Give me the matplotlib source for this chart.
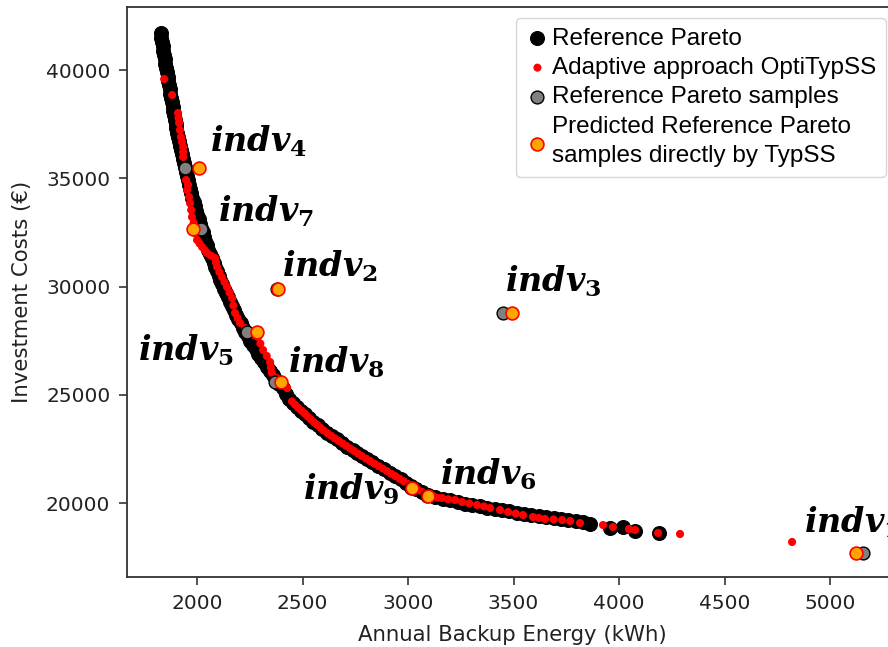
import matplotlib
matplotlib.use("Agg")
import matplotlib.pyplot as plt

plt.rcParams['mathtext.fontset'] = 'custom'
plt.rcParams['mathtext.it'] = 'DejaVu Serif:italic:bold'
plt.rcParams['mathtext.rm'] = 'DejaVu Serif:bold'
plt.rcParams['mathtext.bf'] = 'DejaVu Serif:bold'

# Reference Pareto front (black)
ref_x = [1829, 1831, 1834, 1837, 1840, 1843, 1846, 1850, 1854, 1858, 1861, 1864, 1867, 1870,
         1874, 1877, 1880, 1884, 1887, 1891, 1894, 1898, 1902, 1906, 1910, 1914, 1918, 1922,
         1927, 1932, 1937, 1942, 1947, 1952, 1957, 1962, 1967, 1972, 1978, 1984, 1990, 1996,
         2002, 2008, 2014, 2020, 2026, 2033, 2040, 2047, 2054, 2062, 2070, 2078, 2086, 2094,
         2102, 2110, 2118, 2126, 2135, 2145, 2155, 2165, 2175, 2185, 2195, 2206, 2217, 2228,
         2240, 2252, 2264, 2277, 2290, 2304, 2318, 2332, 2346, 2360, 2375, 2390, 2405, 2421,
         2438, 2455, 2473, 2491, 2510, 2530, 2550, 2571, 2593, 2615, 2638, 2662, 2687, 2713,
         2740, 2758, 2780, 2805, 2830, 2858, 2886, 2915, 2940, 2965, 2990, 3015, 3040, 3065,
         3095, 3130, 3165, 3200, 3235, 3270, 3305, 3340, 3375, 3410, 3445, 3480, 3515, 3550,
         3585, 3620, 3655, 3690, 3725, 3760, 3795, 3830, 3862, 3955, 4020, 4075, 4190]
ref_y = [41700, 41500, 41300, 41100, 40900, 40700, 40500, 40300, 40100, 39900, 39700, 39500,
         39300, 39100, 38900, 38700, 38500, 38300, 38100, 37900, 37700, 37500, 37300, 37100,
         36900, 36700, 36500, 36300, 36100, 35900, 35700, 35500, 35300, 35100, 34900, 34700,
         34500, 34300, 34100, 33900, 33700, 33500, 33300, 33100, 32900, 32700, 32500, 32300,
         32100, 31900, 31700, 31500, 31300, 31100, 30900, 30700, 30500, 30300, 30100, 29900,
         29700, 29500, 29300, 29100, 28900, 28700, 28500, 28300, 28100, 27900, 27700, 27500,
         27300, 27100, 26900, 26700, 26500, 26300, 26100, 25900, 25700, 25500, 25300, 25060,
         24830, 24620, 24440, 24270, 24100, 23934, 23768, 23594, 23412, 23260, 23108, 22950,
         22785, 22614, 22436, 22317, 22188, 22040, 21894, 21729, 21565, 21394, 21250, 21100,
         20955, 20800, 20660, 20530, 20380, 20290, 20205, 20125, 20050, 19980, 19915, 19850,
         19790, 19730, 19675, 19620, 19565, 19510, 19460, 19410, 19360, 19310, 19260, 19210,
         19160, 19110, 19050, 18860, 18900, 18720, 18640]

# Adaptive approach OptiTypSS (red)
ada_x = [1844, 1882, 1910, 1912, 1915, 1919, 1924, 1929, 1934, 1934, 1934, 1948, 1957, 1953,
         1962, 1967, 1972, 1976, 1984, 1991, 1995, 2000, 2012, 2024, 2036, 2047, 2066, 2085,
         2090, 2095, 2106, 2118, 2130, 2142, 2154, 2166, 2172, 2180, 2192, 2204, 2227, 2251,
         2270, 2289, 2300, 2313, 2330, 2346, 2350, 2355, 2375, 2412, 2427, 2450, 2465, 2480,
         2495, 2510, 2525, 2540, 2555, 2570, 2585, 2600, 2618, 2636, 2654, 2672, 2690, 2708,
         2726, 2744, 2762, 2780, 2800, 2820, 2840, 2860, 2880, 2900, 2920, 2940, 2960, 2980,
         3000, 3045, 3065, 3120, 3140, 3161, 3190, 3223, 3256, 3290, 3327, 3360, 3389, 3436,
         3474, 3510, 3545, 3592, 3620, 3649, 3690, 3730, 3768, 3815, 3924, 3971, 4047, 4076,
         4185, 4289, 4820]
ada_y = [39584, 38846, 38015, 37780, 37553, 37230, 36907, 36680, 36445, 36210, 35983, 34921,
         34700, 34460, 34136, 33840, 33536, 33213, 32950, 32705, 32430, 32151, 31990, 31828,
         31690, 31551, 31430, 31320, 31110, 30905, 30670, 30443, 30210, 29981, 29730, 29473,
         29130, 28781, 28550, 28319, 28088, 27857, 27760, 27673, 27370, 27072, 26800, 26518,
         26260, 26010, 25800, 25470, 25318, 24700, 24540, 24400, 24270, 24140, 24000, 23860,
         23730, 23610, 23480, 23360, 23230, 23110, 22990, 22870, 22760, 22640, 22520, 22410,
         22290, 22180, 22060, 21950, 21830, 21710, 21600, 21480, 21360, 21250, 21130, 21010,
         20890, 20640, 20530, 20320, 20250, 20239, 20180, 20147, 20055, 19990, 19916, 19850,
         19777, 19685, 19593, 19520, 19454, 19362, 19320, 19270, 19250, 19224, 19177, 19085,
         18992, 18900, 18808, 18762, 18624, 18577, 18208]

# Reference Pareto samples (grey) and predictions by TypSS (orange)
indv_names = ['1', '2', '3', '4', '5', '6', '7', '8', '9']
samp_x = [5157, 2378, 3450, 1943, 2237, 3090, 2019, 2370, 3015]
samp_y = [17700, 29890, 28780, 35475, 27905, 20350, 32660, 25595, 20720]
pred_x = [5123, 2384, 3493, 2009, 2284, 3095, 1981, 2398, 3019]
pred_y = [17700, 29890, 28780, 35475, 27905, 20330, 32660, 25595, 20700]

# label anchor positions (left, baseline)
lab_x = [4877, 2403, 3460, 2062, 1720, 3152, 2100, 2431, 2502]
lab_y = [18624, 30443, 29750, 36214, 26565, 20840, 32982, 26010, 20147]

fig = plt.figure(figsize=(8.88, 6.47), dpi=100)
ax = fig.add_axes([127/888, 1 - 577/647, (898 - 127)/888, (577 - 7)/647])

h1 = ax.scatter(ref_x, ref_y, s=100, c='black', edgecolors='black', linewidths=0.8, zorder=2,
                label='Reference Pareto')
h2 = ax.scatter(ada_x, ada_y, s=34, c='red', edgecolors='none', zorder=3,
                label='Adaptive approach OptiTypSS')
h3 = ax.scatter(samp_x, samp_y, s=85, c='grey', edgecolors='black', linewidths=1.0, zorder=4,
                label='Reference Pareto samples')
h4 = ax.scatter(pred_x, pred_y, s=85, c='orange', edgecolors='red', linewidths=1.2, zorder=5,
                label='Predicted Reference Pareto\nsamples directly by TypSS')

for n, lx, ly in zip(indv_names, lab_x, lab_y):
    ax.text(lx, ly, r'$indv_{%s}$' % n, fontsize=24, ha='left', va='baseline', zorder=6)

ax.set_xlim(1668, 5322)
ax.set_ylim(16592, 42909)
ax.set_xticks([2000, 2500, 3000, 3500, 4000, 4500, 5000])
ax.set_yticks([20000, 25000, 30000, 35000, 40000])
ax.tick_params(labelsize=14.5, length=6, width=1.1, pad=6, colors='#222222')
for sp in ax.spines.values():
    sp.set_linewidth(1.3)
    sp.set_color('#333333')

ax.set_xlabel('Annual Backup Energy (kWh)', fontsize=15.3, color='#222222', labelpad=9)
ax.set_ylabel('Investment Costs (€)', fontsize=15.3, color='#222222', labelpad=10)

leg = ax.legend(handles=[h1, h2, h3, h4], loc='upper right',
                bbox_to_anchor=(886/888, 1 - 18/647), bbox_transform=fig.transFigure,
                borderaxespad=0, prop={'family': 'Liberation Sans', 'size': 17.5},
                labelspacing=0.3, handlelength=1.0, handletextpad=0.1, borderpad=0.4,
                scatterpoints=1, frameon=True)
leg.get_frame().set_edgecolor('0.8')
leg.get_texts()[3].set_linespacing(1.45)

fig.savefig('out.png', dpi=100)
